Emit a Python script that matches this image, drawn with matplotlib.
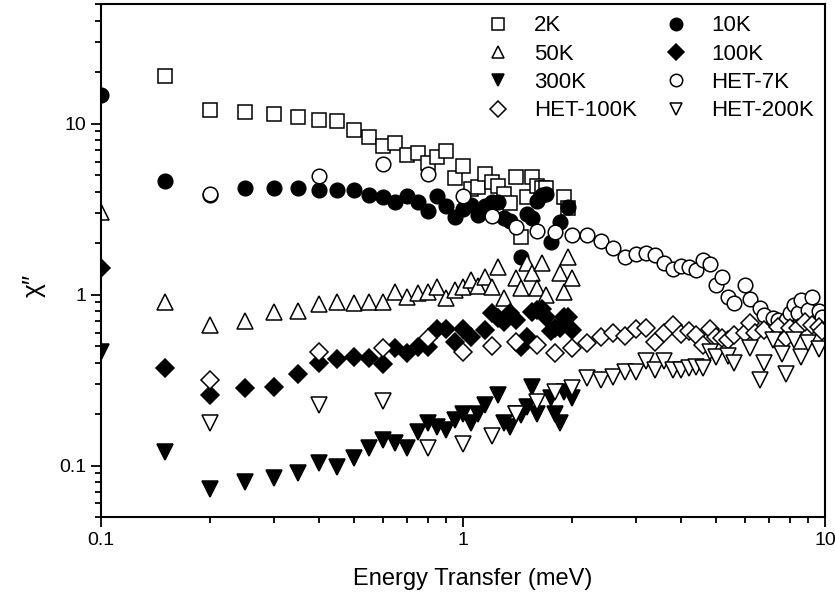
import matplotlib
matplotlib.use("Agg")
import matplotlib.pyplot as plt
from matplotlib.ticker import FuncFormatter, LogLocator

plt.rcParams['font.family'] = ['Liberation Sans', 'DejaVu Sans']

# triple-axis data, 0.05 meV steps
x_2k = [0.15, 0.2, 0.25, 0.3, 0.35, 0.4, 0.45, 0.5, 0.55, 0.6, 0.65, 0.7, 0.75, 0.8, 0.85,
        0.9, 0.95, 1.0, 1.05, 1.1, 1.15, 1.2, 1.25, 1.3, 1.35, 1.4, 1.45, 1.5, 1.55, 1.6,
        1.65, 1.7, 1.9, 1.95]
y_2k = [19.1, 12.1, 11.75, 11.4, 11.0, 10.55, 10.4, 9.2, 8.3, 7.45, 7.75, 6.6, 6.77, 5.85, 6.34,
        6.96, 4.84, 5.69, 4.12, 4.24, 5.05, 4.53, 4.29, 3.9, 3.42, 4.9, 2.18, 3.7, 4.85, 4.3,
        4.23, 4.23, 3.7, 3.19]

x_10k = [0.1, 0.15, 0.2, 0.25, 0.3, 0.35, 0.4, 0.45, 0.5, 0.55, 0.6, 0.65, 0.7, 0.75, 0.8,
         0.85, 0.9, 0.95, 1.0, 1.05, 1.1, 1.15, 1.2, 1.25, 1.3, 1.35, 1.45, 1.5, 1.55, 1.6,
         1.65, 1.7, 1.75, 1.85, 1.95]
y_10k = [14.8, 4.59, 3.8, 4.18, 4.18, 4.18, 4.1, 4.1, 4.1, 3.8, 3.7, 3.46, 3.75, 3.46, 3.07,
         3.75, 3.28, 2.83, 3.16, 3.33, 2.91, 3.28, 3.46, 3.46, 2.79, 2.7, 1.65, 2.98, 2.79, 3.55,
         3.8, 3.9, 2.03, 2.65, 3.24]

x_50k = [0.1, 0.15, 0.2, 0.25, 0.3, 0.35, 0.4, 0.45, 0.5, 0.55, 0.6, 0.65, 0.7, 0.75, 0.8,
         0.85, 0.9, 0.95, 1.0, 1.05, 1.1, 1.15, 1.2, 1.25, 1.3, 1.4, 1.45, 1.5, 1.55, 1.6,
         1.65, 1.7, 1.85, 1.9, 1.95, 2.0]
y_50k = [3.03, 0.90, 0.66, 0.70, 0.79, 0.80, 0.88, 0.90, 0.89, 0.90, 0.90, 1.03, 0.97, 1.02, 1.03,
         1.11, 0.96, 1.06, 1.11, 1.21, 1.13, 1.26, 1.11, 1.45, 0.96, 1.25, 1.10, 1.53, 1.33, 1.10,
         1.53, 0.99, 1.33, 1.03, 1.66, 1.25]

x_100k = [0.1, 0.15, 0.2, 0.25, 0.3, 0.35, 0.4, 0.45, 0.5, 0.55, 0.6, 0.65, 0.7, 0.75, 0.8,
          0.85, 0.9, 0.95, 1.0, 1.05, 1.15, 1.2, 1.25, 1.3, 1.35, 1.4, 1.45, 1.5, 1.55, 1.6,
          1.65, 1.7, 1.75, 1.8, 1.85, 1.9, 1.95, 2.0]
y_100k = [1.43, 0.373, 0.26, 0.285, 0.29, 0.343, 0.40, 0.42, 0.43, 0.427, 0.394, 0.488, 0.455, 0.495, 0.495,
          0.63, 0.63, 0.53, 0.63, 0.565, 0.62, 0.78, 0.73, 0.69, 0.78, 0.71, 0.495, 0.565, 0.79, 0.81,
          0.82, 0.74, 0.61, 0.64, 0.64, 0.74, 0.74, 0.62]

x_300k = [0.1, 0.15, 0.2, 0.25, 0.3, 0.35, 0.4, 0.45, 0.5, 0.55, 0.6, 0.65, 0.7, 0.75, 0.8,
          0.85, 0.9, 0.95, 1.0, 1.05, 1.1, 1.15, 1.25, 1.3, 1.35, 1.4, 1.45, 1.5, 1.55, 1.6,
          1.75, 1.8, 1.85, 1.9, 2.0]
y_300k = [0.46, 0.12, 0.0734, 0.0797, 0.085, 0.091, 0.103, 0.098, 0.111, 0.127, 0.142, 0.136, 0.127, 0.158, 0.178,
          0.167, 0.162, 0.185, 0.20, 0.178, 0.20, 0.227, 0.26, 0.178, 0.167, 0.20, 0.197, 0.22, 0.29, 0.20,
          0.25, 0.20, 0.178, 0.27, 0.25]

# HET data, 0.2 meV steps
x_het7 = [0.2, 0.4, 0.6, 0.8, 1.0, 1.2, 1.4, 1.6, 1.8, 2.0, 2.2, 2.4, 2.6, 2.8, 3.0,
          3.2, 3.4, 3.6, 3.8, 4.0, 4.2, 4.4, 4.6, 4.8, 5.0, 5.2, 5.4, 5.6, 6.0, 6.2,
          6.6, 6.8, 7.2, 7.4, 7.8, 8.0, 8.2, 8.4, 8.6, 9.0, 9.2, 9.6, 9.8]
y_het7 = [3.9, 4.97, 5.77, 5.1, 3.75, 2.87, 2.48, 2.37, 2.32, 2.22, 2.22, 2.07, 1.87, 1.66, 1.72,
          1.74, 1.70, 1.53, 1.41, 1.47, 1.45, 1.39, 1.59, 1.51, 1.14, 1.26, 0.97, 0.89, 1.14, 0.94,
          0.83, 0.76, 0.73, 0.71, 0.71, 0.78, 0.87, 0.78, 0.93, 0.81, 0.97, 0.80, 0.74]

x_het100 = [0.2, 0.4, 0.6, 0.8, 1.0, 1.2, 1.4, 1.6, 1.8, 2.0, 2.2, 2.4, 2.6, 2.8, 3.0,
            3.2, 3.4, 3.6, 3.8, 4.0, 4.2, 4.4, 4.6, 4.8, 5.0, 5.2, 5.4, 5.6, 6.0, 6.2,
            6.4, 6.8, 7.4, 7.8, 8.0, 8.4, 8.8, 9.2, 9.6, 9.8]
y_het100 = [0.317, 0.46, 0.49, 0.557, 0.46, 0.50, 0.53, 0.51, 0.456, 0.49, 0.52, 0.565, 0.60, 0.57, 0.63,
            0.635, 0.53, 0.60, 0.66, 0.59, 0.61, 0.58, 0.51, 0.63, 0.565, 0.56, 0.54, 0.58, 0.60, 0.68,
            0.60, 0.62, 0.645, 0.556, 0.635, 0.64, 0.69, 0.66, 0.645, 0.61]

x_het200 = [0.2, 0.4, 0.6, 0.8, 1.0, 1.2, 1.4, 1.6, 1.8, 2.0, 2.2, 2.4, 2.6, 2.8, 3.0,
            3.2, 3.4, 3.6, 3.8, 4.0, 4.2, 4.4, 4.6, 4.8, 5.0, 5.4, 5.6, 6.2, 6.6, 6.8,
            7.2, 7.6, 7.8, 8.2, 8.6, 9.0, 9.6]
y_het200 = [0.177, 0.227, 0.24, 0.126, 0.133, 0.148, 0.20, 0.236, 0.27, 0.285, 0.326, 0.317, 0.33, 0.353, 0.353,
            0.41, 0.36, 0.41, 0.36, 0.36, 0.37, 0.375, 0.37, 0.46, 0.43, 0.44, 0.40, 0.49, 0.317, 0.40,
            0.54, 0.45, 0.343, 0.54, 0.43, 0.52, 0.48]

fig = plt.figure(figsize=(8.35, 5.96), dpi=100)
ax = fig.add_axes([0.121, 0.1325, 0.867, 0.8605])

ew = 1.1
ax.plot(x_2k, y_2k, 's', ms=9.6, mfc='white', mec='black', mew=ew, label='2K')
ax.plot(x_10k, y_10k, 'o', ms=10.5, mfc='black', mec='black', mew=ew, label='10K')
ax.plot(x_50k, y_50k, '^', ms=11, mfc='white', mec='black', mew=ew, label='50K')
ax.plot(x_100k, y_100k, 'D', ms=9, mfc='black', mec='black', mew=ew, label='100K')
ax.plot(x_300k, y_300k, 'v', ms=11, mfc='black', mec='black', mew=ew, label='300K')
ax.plot(x_het7, y_het7, 'o', ms=10.5, mfc='white', mec='black', mew=ew, label='HET-7K')
ax.plot(x_het100, y_het100, 'D', ms=9, mfc='white', mec='black', mew=ew, label='HET-100K')
ax.plot(x_het200, y_het200, 'v', ms=11, mfc='white', mec='black', mew=ew, label='HET-200K')

ax.set_xscale('log')
ax.set_yscale('log')
ax.set_xlim(0.1, 10)
ax.set_ylim(0.05, 50)

fmt = FuncFormatter(lambda v, pos: '%g' % v)
for axis in (ax.xaxis, ax.yaxis):
    axis.set_major_locator(LogLocator(base=10))
    axis.set_minor_locator(LogLocator(base=10, subs=range(2, 10)))
    axis.set_major_formatter(fmt)
    axis.set_minor_formatter(FuncFormatter(lambda v, pos: ''))

ax.tick_params(which='both', direction='out', width=1.3, labelsize=14, top=False, right=False)
ax.tick_params(which='major', length=7)
ax.tick_params(which='minor', length=4)
for s in ax.spines.values():
    s.set_linewidth(1.5)

ax.set_xlabel('Energy Transfer (meV)', fontsize=17, va='top')
ax.xaxis.set_label_coords(0.513, -0.099)
ax.set_ylabel('χ\u2033', fontsize=19)
ax.yaxis.set_label_coords(-0.077, 0.452)

# legend: the 2 columns fill top to bottom
order = ['2K', '50K', '300K', 'HET-100K', '10K', '100K', 'HET-7K', 'HET-200K']
handles, labels = ax.get_legend_handles_labels()
lookup = dict(zip(labels, handles))
ax.legend([lookup[k] for k in order], order, ncol=2, loc='upper right', frameon=False,
          fontsize=16, markerscale=0.85, handletextpad=0.85, columnspacing=1.0,
          labelspacing=0.33, borderaxespad=0.1, handlelength=1.5)

fig.savefig('out.png', dpi=100)
